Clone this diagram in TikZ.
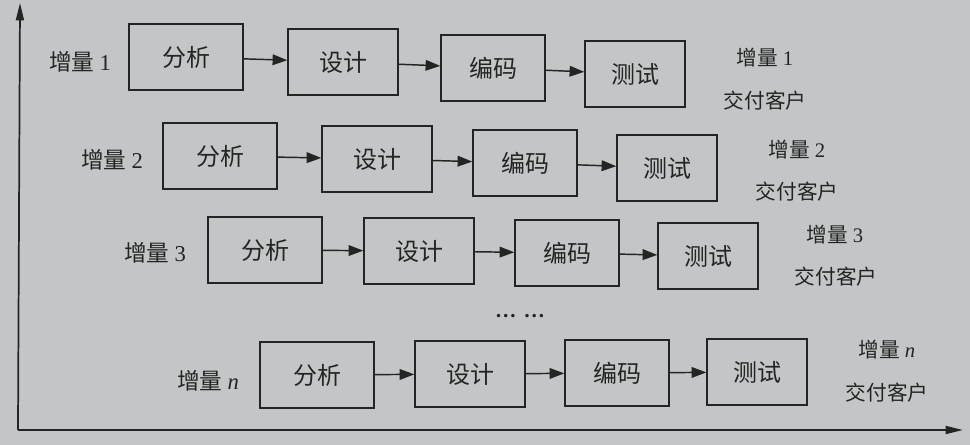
\documentclass[tikz,border=0pt]{standalone}
\usepackage{fontspec}
\setmainfont{Liberation Serif}
\newfontfamily\cjk{Noto Sans CJK SC}
\usetikzlibrary{arrows.meta}
\definecolor{paper}{RGB}{194,198,198}
\definecolor{ink}{RGB}{36,36,36}
\tikzset{every picture/.style={line width=1.1pt}}
\tikzset{
  stagebox/.style={draw=ink, text=ink, minimum height=49.5pt, inner sep=0.75pt, font=\cjk\fontsize{18}{21}\selectfont},
  flow/.style={draw=ink, -{Triangle[length=11pt,width=8pt]}},
  axis/.style={draw=ink, line width=1.3pt, -{Triangle[length=13pt,width=6pt]}},
  incl/.style={text=ink, inner sep=0.75pt, font=\cjk\fontsize{17}{20}\selectfont},
  incr/.style={text=ink, inner sep=0.75pt, font=\cjk\fontsize{15.5}{18}\selectfont},
}

\begin{document}
\begin{tikzpicture}[x=0.75pt,y=0.75pt,yscale=-1,xscale=1]
%set diagram left start at 0, and has height of 445
\path [fill=paper] (0,0) rectangle (970,445);

%Axes
\coordinate (org) at (18,430);
\coordinate (ytip) at (20,3);
\coordinate (xtip) at (963,430);
\draw [axis] (org) -- (ytip);
\draw [axis] (org) -- (xtip);

%Increment 1
\draw (186,57) node [stagebox, minimum width=85.5pt] (fx1) {分析};
\draw (343,62) node [stagebox, minimum width=82.5pt] (sj1) {设计};
\draw (493,68) node [stagebox, minimum width=78pt] (bm1) {编码};
\draw (635,74) node [stagebox, minimum width=75pt] (cs1) {测试};
\draw [flow] (fx1) -- (sj1);
\draw [flow] (sj1) -- (bm1);
\draw [flow] (bm1) -- (cs1);
% Text Node
\draw (80,62) node [incl] (zl1) {增量 \textrm{1}};
\draw (765,58) node [incr] (zl1r) {增量 \textrm{1}};
\draw (765,101) node [incr] (jf1) {交付客户};

%Increment 2
\draw (220,156) node [stagebox, minimum width=85.5pt] (fx2) {分析};
\draw (377,159) node [stagebox, minimum width=82.5pt] (sj2) {设计};
\draw (525,163) node [stagebox, minimum width=78pt] (bm2) {编码};
\draw (667,168) node [stagebox, minimum width=75pt] (cs2) {测试};
\draw [flow] (fx2) -- (sj2);
\draw [flow] (sj2) -- (bm2);
\draw [flow] (bm2) -- (cs2);
% Text Node
\draw (112,160) node [incl] (zl2) {增量 \textrm{2}};
\draw (797,150) node [incr] (zl2r) {增量 \textrm{2}};
\draw (797,192) node [incr] (jf2) {交付客户};

%Increment 3
\draw (265,250) node [stagebox, minimum width=85.5pt] (fx3) {分析};
\draw (419,251) node [stagebox, minimum width=82.5pt] (sj3) {设计};
\draw (567,253) node [stagebox, minimum width=78pt] (bm3) {编码};
\draw (708,256) node [stagebox, minimum width=75pt] (cs3) {测试};
\draw [flow] (fx3) -- (sj3);
\draw [flow] (sj3) -- (bm3);
\draw [flow] (bm3) -- (cs3);
% Text Node
\draw (155,253) node [incl] (zl3) {增量 \textrm{3}};
\draw (835,235) node [incr] (zl3r) {增量 \textrm{3}};
\draw (836,277) node [incr] (jf3) {交付客户};

% Text Node
\draw (520,316) node [text=ink, font=\bfseries\fontsize{16}{18}\selectfont] (dots) {…\,\,…};

%Increment n
\draw (317,375) node [stagebox, minimum width=85.5pt] (fxn) {分析};
\draw (470,374) node [stagebox, minimum width=82.5pt] (sjn) {设计};
\draw (617,373) node [stagebox, minimum width=78pt] (bmn) {编码};
\draw (757,372) node [stagebox, minimum width=75pt] (csn) {测试};
\draw [flow] (fxn) -- (sjn);
\draw [flow] (sjn) -- (bmn);
\draw [flow] (bmn) -- (csn);
% Text Node
\draw (208,381) node [incl] (zln) {增量 {\rmfamily\itshape n}};
\draw (887,350) node [incr] (zlnr) {增量 {\rmfamily\itshape n}};
\draw (887,393) node [incr] (jfn) {交付客户};

\end{tikzpicture}
\end{document}
